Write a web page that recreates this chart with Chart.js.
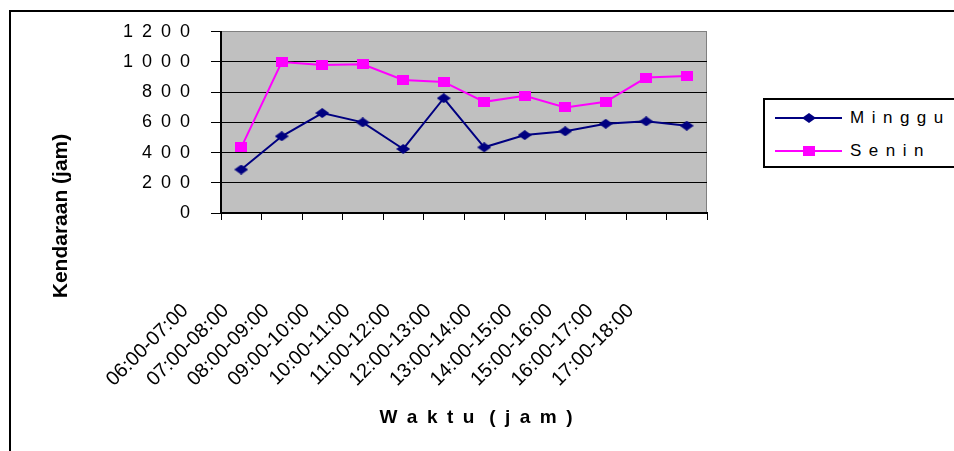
<!DOCTYPE html>
<html lang="id">
<head>
  <meta charset="UTF-8">
  <title>Kendaraan per jam - Minggu dan Senin</title>
  <script src="https://cdn.jsdelivr.net/npm/chart.js"></script>
  <style>
    html, body {
      margin: 0;
      padding: 0;
      background: #fff;
      overflow: hidden;
    }
    body {
      width: 954px;
      height: 451px;
      position: relative;
      font-family: "Liberation Sans", Arial, sans-serif;
    }
    #chart {
      position: absolute;
      left: 0;
      top: 0;
    }
    .frame {
      position: absolute;
      left: 9px;
      top: 10px;
      width: 1000px;
      height: 500px;
      border: 2px solid #000;
      pointer-events: none;
    }
    .legend {
      position: absolute;
      left: 763px;
      top: 98px;
      width: 220px;
      height: 66px;
      border: 2px solid #000;
      background: #fff;
    }
    .legend-item {
      position: absolute;
      left: 10px;
      height: 20px;
      display: flex;
      align-items: center;
      font-size: 17px;
      letter-spacing: 7.5px;
      color: #000;
      white-space: nowrap;
    }
    .legend-line {
      position: relative;
      width: 67px;
      height: 2px;
      margin-right: 8px;
    }
    .legend-line img {
      position: absolute;
      left: 50%;
      top: 50%;
      transform: translate(-50%, -50%);
    }
  </style>
</head>
<body>
  <canvas id="chart" width="954" height="451"></canvas>
  <div class="frame"></div>
  <div id="legend" class="legend"></div>

  <script>
    const categories = ['06:00-07:00', '07:00-08:00', '08:00-09:00', '09:00-10:00',
      '10:00-11:00', '11:00-12:00', '12:00-13:00', '13:00-14:00', '14:00-15:00',
      '15:00-16:00', '16:00-17:00', '17:00-18:00'];
    const seriesNames = ['Minggu', 'Senin'];
    const minggu = [288, 508, 662, 600, 424, 760, 435, 516, 541, 591, 607, 578];
    const senin = [435, 1000, 980, 985, 881, 868, 736, 776, 699, 736, 897, 908];
    const yTicks = [0, 200, 400, 600, 800, 1000, 1200];
    const xTitle = 'Waktu (jam)';
    const yTitle = 'Kendaraan (jam)';

    const FONT = '"Liberation Sans", Arial, sans-serif';

    // Excel "expanded" character spacing, done with unicode spaces
    function spaced(text, gap) {
      return text.split(' ').map(w => w.split('').join(gap)).join(gap + ' ');
    }

    // flattened markers like the original chart
    function makeMarker(shape, color, w, h) {
      const c = document.createElement('canvas');
      c.width = w;
      c.height = h;
      const g = c.getContext('2d');
      g.fillStyle = color;
      g.beginPath();
      if (shape === 'diamond') {
        g.moveTo(w / 2, 0);
        g.lineTo(w, h / 2);
        g.lineTo(w / 2, h);
        g.lineTo(0, h / 2);
        g.closePath();
      } else {
        g.rect(0, 0, w, h);
      }
      g.fill();
      return c;
    }

    const diamond = makeMarker('diamond', '#000080', 14, 10);
    const square = makeMarker('square', '#FF00FF', 12, 10);

    const plotBackground = {
      id: 'plotBackground',
      beforeDraw(chart) {
        const { ctx, chartArea: a } = chart;
        ctx.save();
        ctx.fillStyle = '#C0C0C0';
        ctx.fillRect(a.left, a.top, a.width, a.height);
        ctx.strokeStyle = '#808080';
        ctx.lineWidth = 1;
        ctx.beginPath();
        ctx.moveTo(a.right - 0.5, a.top);
        ctx.lineTo(a.right - 0.5, a.bottom);
        ctx.stroke();
        ctx.restore();
      }
    };

    const axisTitles = {
      id: 'axisTitles',
      afterDraw(chart) {
        const { ctx } = chart;
        ctx.save();
        ctx.fillStyle = '#000';
        ctx.textAlign = 'center';
        ctx.textBaseline = 'middle';

        ctx.font = 'bold 19px ' + FONT;
        ctx.fillText(spaced(xTitle, '\u2002'), 476, 418);

        ctx.translate(61, 216);
        ctx.rotate(-Math.PI / 2);
        ctx.font = 'bold 21px ' + FONT;
        ctx.fillText(yTitle, 0, 0);
        ctx.restore();
      }
    };

    const chart = new Chart(document.getElementById('chart').getContext('2d'), {
      type: 'line',
      data: {
        labels: categories,
        datasets: [{
          label: seriesNames[0],
          data: minggu,
          borderColor: '#000080',
          backgroundColor: '#000080',
          borderWidth: 2,
          pointStyle: diamond,
          tension: 0
        }, {
          label: seriesNames[1],
          data: senin,
          borderColor: '#FF00FF',
          backgroundColor: '#FF00FF',
          borderWidth: 2,
          pointStyle: square,
          tension: 0
        }]
      },
      options: {
        responsive: false,
        animation: false,
        layout: {
          padding: { top: 29, right: 247, bottom: 0, left: 0 }
        },
        plugins: {
          legend: { display: false },
          tooltip: { enabled: false }
        },
        scales: {
          x: {
            offset: true,
            grid: {
              offset: true,
              drawOnChartArea: false,
              drawTicks: true,
              tickLength: 7,
              tickColor: '#000',
              lineWidth: 1
            },
            border: { color: '#000', width: 2 },
            ticks: {
              autoSkip: false,
              minRotation: 45,
              maxRotation: 45,
              padding: 79,
              labelOffset: -56,
              color: '#000',
              font: { family: FONT, size: 20 }
            },
            afterFit(scale) {
              scale.height = 238;
            }
          },
          y: {
            min: yTicks[0],
            max: yTicks[yTicks.length - 1],
            afterBuildTicks(scale) {
              scale.ticks = yTicks.map(v => ({ value: v }));
            },
            grid: {
              color: ctx => (ctx.tick && ctx.tick.value === yTicks[yTicks.length - 1]) ? '#808080' : '#000',
              tickColor: '#000',
              tickLength: 10,
              lineWidth: 1
            },
            border: { color: '#000', width: 2 },
            ticks: {
              padding: 21,
              color: '#000',
              font: { family: FONT, size: 18 },
              callback: v => spaced(String(v), '\u2002')
            },
            afterFit(scale) {
              scale.width = 221;
            }
          }
        }
      },
      plugins: [plotBackground, axisTitles]
    });

    // legend drawn in html, line with the marker across it
    function createLegend(chart, legendId) {
      const box = document.getElementById(legendId);
      const markers = [diamond, square];
      chart.data.datasets.forEach((ds, i) => {
        const item = document.createElement('div');
        item.className = 'legend-item';
        item.style.top = (8 + i * 33) + 'px';

        const line = document.createElement('span');
        line.className = 'legend-line';
        line.style.backgroundColor = ds.borderColor;
        const img = document.createElement('img');
        img.src = markers[i].toDataURL();
        line.appendChild(img);

        const label = document.createElement('span');
        label.textContent = ds.label;

        item.appendChild(line);
        item.appendChild(label);
        box.appendChild(item);
      });
    }

    createLegend(chart, 'legend');
  </script>
</body>
</html>
